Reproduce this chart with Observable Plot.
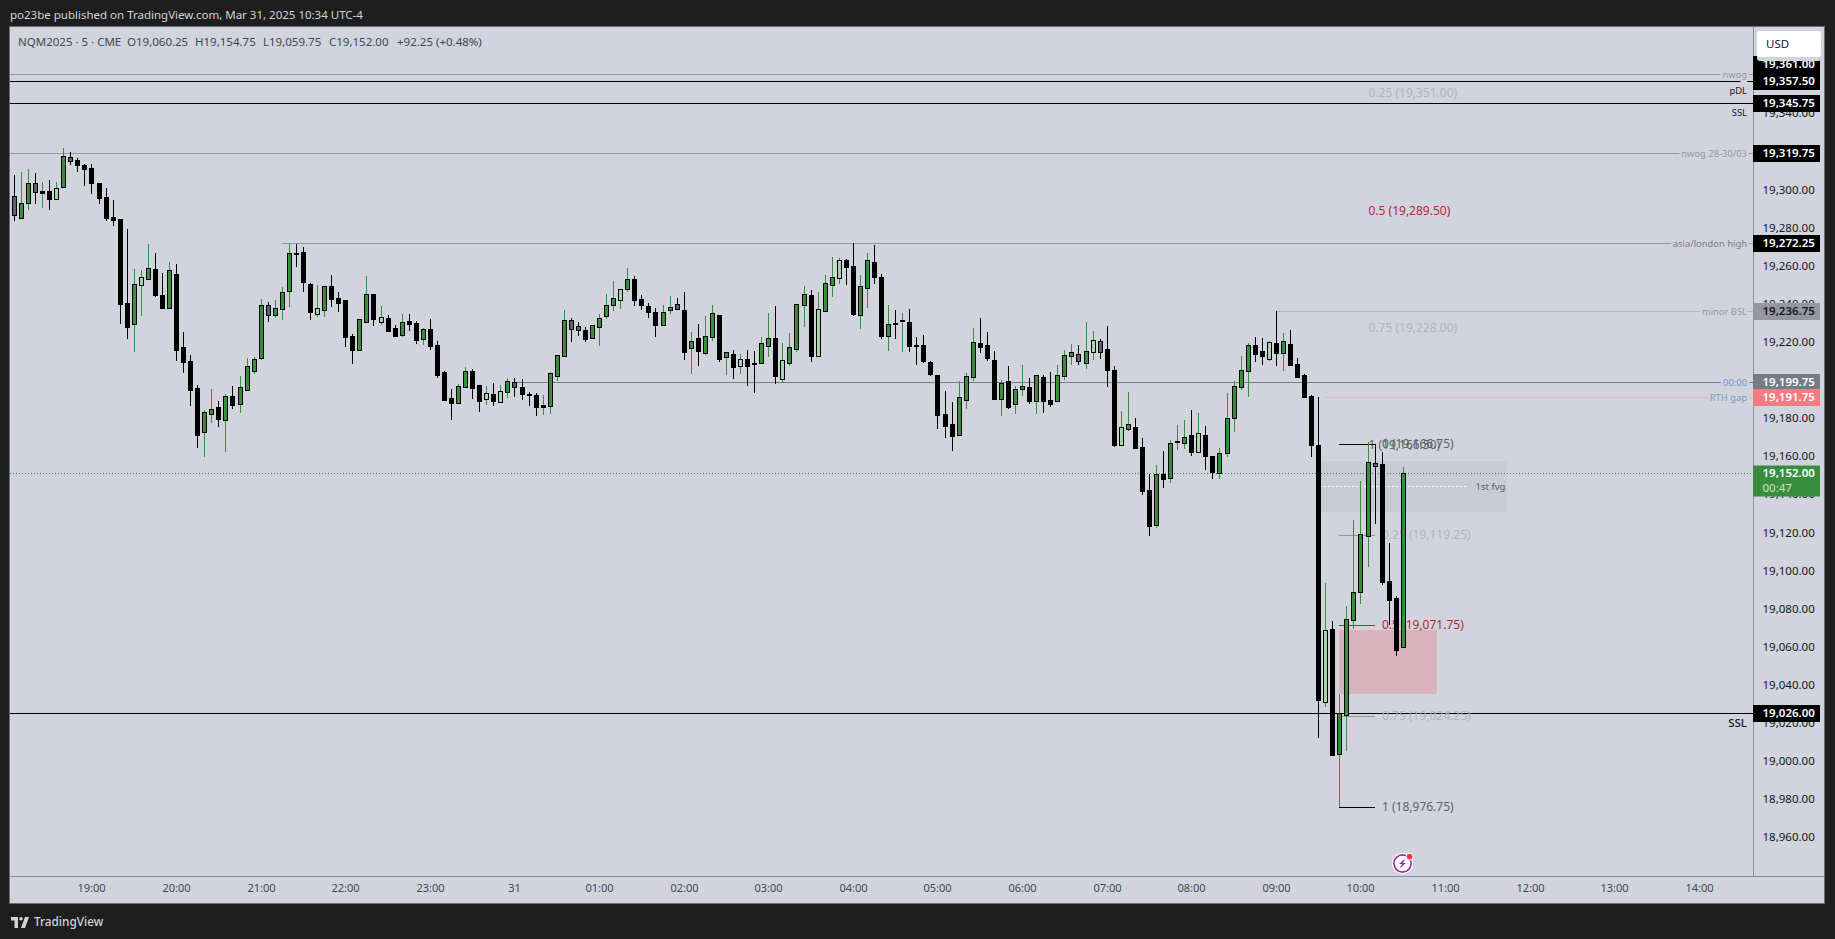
<!DOCTYPE html>
<html><head><meta charset="utf-8">
<script src="https://cdn.jsdelivr.net/npm/d3@7"></script>
<script src="https://cdn.jsdelivr.net/npm/@observablehq/plot@0.6"></script>
<style>
html,body{margin:0;padding:0;background:#1e1e1e;overflow:hidden;width:1835px;height:939px;font-family:"Noto Sans",sans-serif}
#head{position:absolute;left:10px;top:6px;color:#d1d4dc;font-size:11.5px;line-height:18px;white-space:pre}
#chart{position:absolute;left:10px;top:27px;width:1814px;height:876px;outline:1px solid #6a6d78}
#chart svg{display:block}
.lg{position:absolute;top:33px;color:#434651;font-size:11.5px;line-height:18px;white-space:pre}
#usd{position:absolute;left:1757px;top:31px;width:64px;height:26px;background:#fff;border-radius:3px;box-shadow:0 4px 0 #d1d4dc;color:#131722;font-size:11.5px;line-height:26px;text-indent:9px}
#tv{position:absolute;left:10px;top:912px;height:18px;display:flex;align-items:center;color:#d1d4dc;font-size:11.8px;font-weight:500}
#tv svg{margin-right:4px}
#bolt{position:absolute;left:1391px;top:851px}
</style></head><body>
<div id="head">po23be published on TradingView.com, Mar 31, 2025 10:34 UTC-4</div>
<div id="chart"></div>
<div class="lg" style="left:18px">NQM2025 · 5 · CME</div>
<div class="lg" style="left:127px">O19,060.25</div>
<div class="lg" style="left:195px">H19,154.75</div>
<div class="lg" style="left:263px">L19,059.75</div>
<div class="lg" style="left:329px">C19,152.00</div>
<div class="lg" style="left:397px">+92.25 (+0.48%)</div>
<div id="usd">USD</div>
<svg id="bolt" width="24" height="24" viewBox="0 0 24 24">
<circle cx="11.5" cy="12.5" r="10.6" fill="#fff"/>
<circle cx="11.5" cy="12.5" r="8.6" fill="none" stroke="#9c27b0" stroke-width="1.6"/>
<path d="M14.5 7.5 L8 13 L11 13 L8.5 17.5 L15 12 L12 12 Z" fill="#9c27b0"/>
<circle cx="18.6" cy="5.7" r="3.4" fill="#f23645" stroke="#fff" stroke-width="1"/>
</svg>
<div id="tv"><svg width="20" height="14" viewBox="0 0 36 28"><path fill="#d1d4dc" d="M14 6H0v7h7v15h7V6zm14 22h-8l8-22h8l-8 22zM20 13a3.6 3.6 0 1 0 0-7.200 3.600 3.600 0 0 0 0 7.200z"/></svg>TradingView</div>
<script>
const tone = ("sggsdklgsk"+"kkkkkkkglg"+"kkgkkkkggk"+"gkggggsggg"+"kkklgkkkkg"+"gklkkgkkgk"+"kkkggkklkl"+"gskkkdgggs"+"skgggglgkk"+"kkggskgkgg"+"kgklkkggkl"+"gggklgglkk"+"ggkkgkdkkk"+"kkkkgggkkk"+"gkggkgkkgg"+"gsglskklgk"+"kkgkgdgklk"+"kgggggkklk"+"gkkkkklkgg"+"gggskkkg").split("");

const bodyTop = [
19297,19293.2,19304.2,19304.2,19299.5,19299.7,19301.1,19317.9,19317.4,19316,
19313.3,19311.8,19303.9,19296.5,19286.1,19285,19240.9,19250.7,19254.6,19259.1,
19258.8,19245.1,19258.2,19256.1,19217.8,19210.5,19196.3,19183.6,19185.1,19186.4,
19192,19192.1,19196.7,19207.7,19211.4,19239.7,19239.7,19238.1,19247,19267,
19267.2,19267.8,19251,19238.2,19249.7,19249.9,19243.6,19242.6,19223.7,19232.4,
19245.5,19245.7,19233.5,19233.1,19227.9,19230.9,19231.6,19230.5,19227.2,19227.4,
19219,19204.8,19191.2,19197.3,19205.1,19205.3,19198,19193.6,19193.2,19194.6,
19199.9,19199.4,19196.9,19193.2,19192.7,19187.5,19204.1,19213.5,19231.9,19231.9,
19228.8,19226.8,19229.3,19233,19239.8,19243.4,19248.1,19253.4,19253.5,19243.1,
19239.4,19236.2,19236.1,19238.7,19240.3,19237.3,19220.8,19222.4,19223.5,19235.5,
19234.7,19215.1,19214.2,19211.4,19211.6,19209.5,19219.8,19222.4,19222.6,19210.9,
19217.7,19240.3,19245.5,19245.2,19237.6,19251.3,19254.4,19263.3,19263.5,19260.4,
19249.7,19263.3,19262.5,19254.6,19229.8,19230.5,19232,19231,19218.9,19218.9,
19210,19203.2,19182.7,19177.5,19191.5,19202.7,19220.3,19220,19218.9,19211,
19199,19200,19195.7,19197.2,19196.9,19203.2,19202.1,19190.1,19203.2,19213.7,
19215.2,19214.2,19215.6,19221.5,19221,19216.8,19205.8,19175.7,19177.3,19175.9,
19165.4,19142.8,19151.2,19151.2,19167.3,19168.5,19170.5,19171.7,19172.6,19171.7,
19160.7,19162.2,19180.4,19197.2,19205.6,19218.7,19218.9,19215.7,19220.3,19219.9,
19220.8,19219.4,19208.9,19203.2,19192.1,19166.4,19069.2,19069.8,19025.7,19075,
19089.2,19119.6,19157.4,19156.9,19156.5,19095,19086.2,19152];

const bodyBottom = [
19287.3,19285.7,19293.6,19299,19298.8,19295.5,19295.7,19302,19315.6,19313.3,
19311.2,19303.9,19296,19285.5,19284.5,19240.4,19228.3,19230.1,19250.4,19253.7,
19245.1,19238.3,19238.3,19216.3,19210,19195.3,19171.7,19173.2,19182.9,19180.1,
19179.7,19187.4,19188.1,19195.5,19205.4,19212.2,19234.8,19234.8,19238,19247.4,
19266.6,19252,19236.3,19235.4,19237.5,19243.1,19241,19223.2,19216.3,19216.5,
19231.2,19232.6,19231.2,19226.3,19223.7,19224.2,19230,19221.6,19222.3,19218.4,
19203.2,19190.1,19188.5,19188.7,19197.1,19196.4,19189.6,19190.8,19189.6,19189.2,
19194.5,19197.1,19193.2,19192.7,19186.4,19186.6,19187.1,19202.9,19213.4,19227.5,
19227,19222.1,19222.8,19228.6,19234.4,19240.1,19242.7,19248.5,19242.5,19240.1,
19236.2,19229.4,19229.6,19237.5,19238,19215.2,19217.5,19215.8,19214.9,19223.3,
19211.6,19212.8,19207.4,19208.1,19207.9,19208.9,19209.6,19218.6,19202.7,19201.3,
19209.6,19217,19240.1,19213.1,19213.3,19236.9,19250.6,19254.2,19259.8,19235.2,
19234.8,19249,19254.6,19223.6,19223.8,19229.9,19231.5,19218.4,19218.4,19210.5,
19203.7,19182.2,19176.4,19171.2,19171.7,19190.1,19202.1,19217.9,19212.1,19190.6,
19190.6,19186.4,19188,19195.8,19189.5,19189.5,19189.5,19188,19189.5,19202.7,
19213.1,19210.7,19209.5,19215.2,19215.2,19205.8,19166.4,19166.4,19174.8,19164.9,
19142.3,19123.7,19124.3,19148.6,19149.3,19168,19167.5,19162.8,19162.8,19160.8,
19152.3,19151.9,19162.4,19180.8,19197,19205.4,19214.2,19213.1,19211.7,19214.7,
19214.9,19208.4,19202.1,19191.6,19166.4,19032.7,19031.8,19003.8,19004.5,19025,
19074.8,19089.5,19118.9,19155.6,19094.6,19085.2,19058.9,19060.25];

const high = [
19308,19309.7,19311.2,19309.1,19304.4,19305.5,19304.4,19322.3,19320.2,19317,
19313.9,19313.9,19303.9,19301.3,19295,19285,19279.8,19258.8,19258.2,19271.9,
19267.2,19256.7,19262.4,19261.4,19225.7,19213.6,19197.9,19184.8,19195.8,19189.5,
19193.2,19197.4,19202.6,19212.1,19212.6,19243,19241.5,19242.5,19249.3,19272.4,
19271.9,19270.4,19251.5,19250.4,19249.7,19255.7,19246.8,19242.6,19224.7,19232.4,
19255.2,19245.7,19239.4,19234.7,19229.5,19235.2,19235.2,19231.6,19227.9,19232.6,
19221.1,19205.3,19195.9,19198.5,19207.4,19206.4,19198,19197.4,19199,19198,
19201.6,19201.6,19201.1,19194.3,19193.8,19192.7,19204.8,19213.5,19237.3,19233.1,
19231,19228.4,19229.3,19235.2,19245.7,19252.5,19248.1,19259.3,19255.1,19245.2,
19241,19238.3,19239.9,19244.6,19243.6,19246.7,19225.7,19229.9,19234.1,19239.9,
19234.7,19215.1,19216.3,19214.2,19216.3,19215.8,19223.1,19235.7,19239.4,19220,
19225.2,19240.3,19249.9,19247.8,19246.7,19255.6,19265.1,19264.6,19264,19272.4,
19255.6,19267.2,19271.4,19256.2,19239.9,19237.3,19235.7,19237.8,19223.1,19224.2,
19210.5,19203.2,19194.8,19189,19200,19204.2,19227.8,19233.1,19225.7,19215.8,
19200.6,19207.9,19197.4,19208.4,19201.6,19203.2,19203.2,19204.8,19208.4,19216.3,
19219.4,19218.9,19231,19226.3,19222.1,19228.9,19207.9,19184.3,19194.3,19180.6,
19170.1,19151.2,19156,19163.3,19169.1,19176.9,19179.6,19184.8,19183.2,19176.4,
19160.7,19164.9,19193.7,19200,19213.1,19219.9,19223.1,19222.6,19221,19236.7,
19225.2,19226.8,19212.1,19203.7,19192.7,19191.6,19094.1,19074.1,19035.8,19082,
19127.1,19147.6,19168.1,19166.75,19162.8,19115.1,19087.3,19154.75];

const low = [
19284,19285.7,19289.7,19292.9,19290.8,19289.7,19295,19302,19313.3,19309.7,
19302.3,19298.1,19292.9,19284,19281.3,19229.9,19222,19215.2,19234.1,19253,
19244.1,19238.3,19238.3,19210.5,19204.2,19186.9,19164.8,19160.1,19178,19175.9,
19162.7,19185.3,19183.2,19195.5,19203.7,19211,19231,19233.1,19232,19238.8,
19259.8,19246.8,19232.1,19233.7,19233.7,19238.9,19236.3,19217.9,19209,19216.3,
19231.2,19228.9,19229.5,19225.8,19223.2,19223.2,19226.3,19219.5,19219,19216.3,
19201.6,19190.1,19179.6,19188.7,19197.1,19190.6,19183.8,19187.5,19187,19188.5,
19191.2,19191.7,19190.1,19187,19181.7,19182.2,19182.8,19200.1,19213.4,19220.5,
19223.7,19220.5,19222.8,19218.4,19232.6,19236.8,19237.8,19246.7,19239.4,19237.3,
19233.1,19223.1,19229.6,19235.2,19238,19211,19203.7,19207.9,19213.7,19221,
19210,19203.2,19201.1,19203.7,19197.4,19193.7,19209.3,19212.6,19198.5,19199,
19207.9,19215.2,19228.4,19210,19213.1,19236.2,19244.1,19250.9,19250.4,19234.1,
19227.3,19238.3,19250.9,19222.1,19215.8,19222.1,19215.2,19215.2,19208.4,19209.5,
19202.7,19174.8,19170.1,19163.3,19171.7,19185.3,19200,19214.7,19210.5,19190.6,
19181.7,19185.3,19182.7,19192.2,19188,19182.7,19183.2,19186.4,19189.5,19200.6,
19208.4,19208.4,19206.3,19211,19211.6,19196.9,19165.4,19166.4,19173.8,19164.9,
19140,19118.7,19123,19143.9,19146.5,19163.8,19164.3,19160.7,19162.8,19153.3,
19148.6,19148.6,19160.3,19173.2,19195.3,19191.6,19210,19208.4,19210.5,19207.9,
19205.3,19207.9,19202.1,19191.6,19160.1,19012.7,19029.2,19003.8,18976.75,19005.9,
19069.9,19083.1,19102.5,19125,19093,19072,19055.8,19059.75];

const firstBar = "2025-03-30T18:05:00Z";
const barMinutes = 5;
const viewStart = "2025-03-30T18:02:12Z", viewEnd = "2025-03-31T14:38:23Z";
const priceMin = 18940.3, priceMax = 19385.8;
const hourTicks = ["2025-03-30T19:00Z","2025-03-30T20:00Z","2025-03-30T21:00Z","2025-03-30T22:00Z","2025-03-30T23:00Z","2025-03-31T00:00Z","2025-03-31T01:00Z","2025-03-31T02:00Z","2025-03-31T03:00Z","2025-03-31T04:00Z","2025-03-31T05:00Z","2025-03-31T06:00Z","2025-03-31T07:00Z","2025-03-31T08:00Z","2025-03-31T09:00Z","2025-03-31T10:00Z","2025-03-31T11:00Z","2025-03-31T12:00Z","2025-03-31T13:00Z","2025-03-31T14:00Z"].map(d=>new Date(d));
const priceTicks = [18960,18980,19000,19020,19040,19060,19080,19100,19120,19140,19160,19180,19200,19220,19240,19260,19280,19300,19320,19340];

const levelName  = ["nwog","pDL","SSL","nwog 28-30/03","asia/london high","minor BSL","00:00","RTH gap","SSL"];
const levelPrice = [19361,19357.5,19345.75,19319.75,19272.25,19236.75,19199.75,19191.75,19026];
const levelStart = ["2025-03-30T18:02Z","2025-03-30T18:02Z","2025-03-30T18:02Z","2025-03-30T18:02Z","2025-03-30T21:15Z","2025-03-31T09:00Z","2025-03-31T00:00Z","2025-03-31T09:35Z","2025-03-30T18:02Z"];
const levelColor = ["#9598a1","#000","#000","#9598a1","#9598a1","#b2b5be","#787b86","#e5b9bd","#000"];
const levelText  = ["#9598a1","#131722","#131722","#9598a1","#787b86","#9598a1","#6d8fe0","#7a9cc6","#131722"];

const fibOneText = ["0.25 (19,351.00)","0.5 (19,289.50)","0.75 (19,228.00)","1 (19,166.50)"];
const fibOnePrice = [19351,19289.5,19228,19166.5];
const fibOneColor = ["#b2b5be","#b22833","#b2b5be","#5d606b"];
const fibTwoText = ["0 (19,166.75)","0.25 (19,119.25)","0.5 (19,071.75)","0.75 (19,024.25)","1 (18,976.75)"];
const fibTwoPrice = [19166.75,19119.25,19071.75,19024.25,18976.75];
const fibTwoColor = ["#5d606b","#b2b5be","#b22833","#b2b5be","#5d606b"];
const fibTwoLine = ["#000","#9598a1","#b22833","#9598a1","#000"];
const fibTwoStart = "2025-03-31T09:45Z", fibTwoEnd = "2025-03-31T10:10Z";

const tagPrice = [19357.5,19345.75,19319.75,19272.25,19236.75,19199.75,19191.75,19026];
const tagFill  = ["#000","#000","#000","#000","#9598a1","#787b86","#f77c80","#000"];
const tagInk   = ["#fff","#fff","#fff","#fff","#131722","#fff","#fff","#fff"];
const tagEnd = new Date("2025-03-31T15:26Z");
const paneRight = new Date(viewEnd);
const fmtPrice = d3.format(",.2f");
const fills = {g:"#388e3c", l:"#a5d6a7", s:"#5d606b", k:"#000", d:"#000"};
const wicks = {g:"#388e3c", l:"#388e3c", d:"#388e3c", s:"#000", k:"#000"};

const t0 = new Date(firstBar);
const bars = tone.map((c,i)=>({
  time: d3.utcMinute.offset(t0, i*barMinutes), tone:c,
  top: bodyTop[i], bottom: bodyBottom[i], high: high[i], low: low[i]
}));
const levels = levelName.map((n,i)=>({name:n, price:levelPrice[i], start:new Date(levelStart[i]), line:levelColor[i], ink:levelText[i]}));
const tags = tagPrice.map((p,i)=>({price:p, fill:tagFill[i], ink:tagInk[i]}));
const fibOne = fibOneText.map((t,i)=>({t, p:fibOnePrice[i], c:fibOneColor[i]}));
const fibTwo = fibTwoText.map((t,i)=>({t, p:fibTwoPrice[i], c:fibTwoColor[i], l:fibTwoLine[i]}));
const D = s=>new Date(s);
const BG = "#d1d4dc";

const chart = Plot.plot({
  width:1814, height:876, marginLeft:0, marginRight:71, marginTop:0, marginBottom:27,
  style:{background:BG, fontFamily:'"Noto Sans",sans-serif', overflow:"visible"},
  x:{type:"utc", domain:[D(viewStart),D(viewEnd)], round:true},
  y:{domain:[priceMin,priceMax], round:true},
  marks:[
    Plot.rect([0],{x1:()=>D("2025-03-31T09:31Z"),x2:()=>D("2025-03-31T11:44Z"),y1:()=>19131.5,y2:()=>19158.2,fill:"#c9ccd5"}),
    Plot.rect([0],{x1:()=>D("2025-03-31T09:45Z"),x2:()=>D("2025-03-31T10:54Z"),y1:()=>19035.9,y2:()=>19069.4,fill:"#d9b4bc"}),
    Plot.ruleY([19144.8],{x1:()=>D("2025-03-31T09:31Z"),x2:()=>D("2025-03-31T11:16Z"),stroke:"#fff",strokeDasharray:"2 2"}),
    Plot.text(["1st fvg"],{x:()=>D("2025-03-31T11:21Z"),y:()=>19144.8,text:d=>d,textAnchor:"start",fontSize:9.500,fill:"#5d606b"}),
    Plot.ruleY(levels,{y:"price",x1:"start",x2:()=>paneRight,stroke:"line"}),
    Plot.ruleY([19152],{x1:()=>D(viewStart),x2:()=>paneRight,stroke:"#388e3c",strokeDasharray:"1 2"}),
    Plot.text(levels.filter(d=>!["pDL","SSL"].includes(d.name)),{x:()=>paneRight,y:"price",text:"name",dx:-6.500,textAnchor:"end",fontSize:9.400,fill:"ink",stroke:BG,strokeWidth:5}),
    Plot.text(levels.filter(d=>d.name==="pDL"||(d.name==="SSL"&&d.price>19100)),{x:()=>paneRight,y:"price",text:"name",dx:-6.500,dy:9,textAnchor:"end",fontSize:9.400,fill:"ink"}),
    Plot.text(levels.filter(d=>d.name==="SSL"&&d.price<19100),{x:()=>paneRight,y:"price",text:"name",dx:-6.500,dy:10,textAnchor:"end",fontSize:11.500,fontWeight:500,fill:"ink"}),
    Plot.text(fibOne,{x:()=>D("2025-03-31T10:05Z"),y:"p",text:"t",textAnchor:"start",dx:0,fontSize:12,fill:"c"}),
    Plot.ruleY(fibTwo,{y:"p",x1:()=>D(fibTwoStart),x2:()=>D(fibTwoEnd),stroke:"l"}),
    Plot.text(fibTwo,{x:()=>D(fibTwoEnd),y:"p",text:"t",textAnchor:"start",dx:6.500,fontSize:12,fill:"c"}),
    Plot.ruleX(bars,{x:"time",y1:"high",y2:"low",stroke:d=>wicks[d.tone],strokeWidth:1}),
    Plot.ruleX(bars,{x:"time",y1:"top",y2:"bottom",stroke:"#000",strokeWidth:5,insetBottom:-1}),
    Plot.ruleX(bars.filter(d=>d.tone==="g"||d.tone==="l"||d.tone==="s"),{x:"time",y1:"top",y2:"bottom",stroke:d=>fills[d.tone],strokeWidth:3,insetTop:1}),
    Plot.frame({anchor:"right",stroke:"#8a8d98"}),
    Plot.ruleY([priceMin],{x1:()=>D(viewStart),x2:()=>D("2025-03-31T15:29Z"),stroke:"#8a8d98"}),
    Plot.axisX({ticks:hourTicks,tickSize:0,tickPadding:8,label:null,fontSize:11,color:"#434651",
      tickFormat:d=>d.getUTCHours()===0?"31":d3.utcFormat("%H:00")(d)}),
    Plot.axisY({anchor:"right",ticks:priceTicks,tickSize:0,tickPadding:9,dy:-1,label:null,fontSize:11.500,color:"#131722",tickFormat:fmtPrice}),
    Plot.ruleY([19361],{x1:()=>paneRight,x2:()=>tagEnd,stroke:"#000",strokeWidth:17,dy:-10}),
    Plot.text([19361],{x:()=>paneRight,y:d=>d,text:fmtPrice,dx:9,dy:-10,textAnchor:"start",fill:"#fff",fontSize:11.500,fontWeight:600}),
    Plot.ruleY(tags,{y:"price",x1:()=>paneRight,x2:()=>tagEnd,stroke:"fill",strokeWidth:17}),
    Plot.text(tags,{x:()=>paneRight,y:"price",text:d=>fmtPrice(d.price),dx:9,textAnchor:"start",fill:"ink",fontSize:11.500,fontWeight:600}),
    Plot.ruleY([19152],{x1:()=>paneRight,x2:()=>tagEnd,stroke:"#388e3c",strokeWidth:31,dy:7.500}),
    Plot.text([19152],{x:()=>paneRight,y:d=>d,text:fmtPrice,dx:9,textAnchor:"start",fill:"#fff",fontSize:11.500,fontWeight:600}),
    Plot.text(["00:47"],{x:()=>paneRight,y:()=>19152,text:d=>d,dx:9,dy:15,textAnchor:"start",fill:"#c8e6c9",fontSize:11.500})
  ]
});
document.getElementById("chart").appendChild(chart);
</script>
</body></html>
